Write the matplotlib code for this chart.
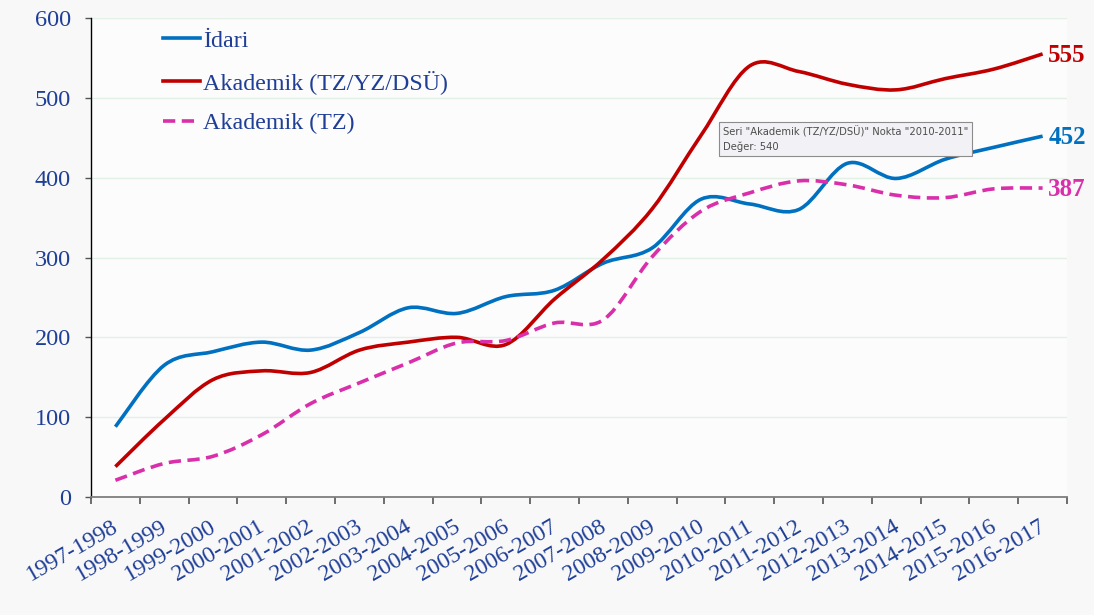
import numpy as np
import matplotlib
matplotlib.use("Agg")
import matplotlib.pyplot as plt
import matplotlib.transforms as mtransforms
from matplotlib.path import Path
from matplotlib.patches import PathPatch
from matplotlib.lines import Line2D

years = ["1997-1998", "1998-1999", "1999-2000", "2000-2001", "2001-2002", "2002-2003",
         "2003-2004", "2004-2005", "2005-2006", "2006-2007", "2007-2008", "2008-2009",
         "2009-2010", "2010-2011", "2011-2012", "2012-2013", "2013-2014", "2014-2015",
         "2015-2016", "2016-2017"]
idari = [88, 165, 182, 194, 184, 206, 237, 230, 251, 259, 293, 312, 373, 367, 360, 418, 399, 423, 438, 452]
akademik_all = [38, 97, 147, 158, 156, 184, 194, 200, 191, 248, 298, 361, 453, 540, 533, 517, 510, 524, 536, 555]
akademik_tz = [21, 42, 51, 78, 117, 143, 168, 193, 196, 218, 222, 301, 358, 381, 396, 391, 378, 375, 386, 387]

names = ["İdari", "Akademik (TZ/YZ/DSÜ)", "Akademik (TZ)"]
colors = ["#0070C0", "#C00000", "#D92FAA"]
label_blue = "#1F3E96"

W, H = 1094, 615
fig = plt.figure(figsize=(W / 100, H / 100), dpi=100, facecolor="#F8F8F8")
ax = fig.add_axes([91 / W, 1 - 497 / H, (1067 - 91) / W, (497 - 18) / H])
ax.set_facecolor("#FCFCFC")


def smooth_path(xs, ys):
    pts = np.column_stack([xs, ys]).astype(float)
    n = len(pts)
    verts = [pts[0]]
    codes = [Path.MOVETO]
    for i in range(n - 1):
        p0 = pts[i - 1] if i > 0 else pts[i]
        p1 = pts[i]
        p2 = pts[i + 1]
        p3 = pts[i + 2] if i + 2 < n else pts[i + 1]
        c1 = p1 + (p2 - p0) / 6.0
        c2 = p2 - (p3 - p1) / 6.0
        verts += [c1, c2, p2]
        codes += [Path.CURVE4] * 3
    return Path(verts, codes)


xs = np.arange(len(years))
series = [idari, akademik_all, akademik_tz]
styles = ["-", "-", (0, (3.4, 1.8))]
handles = []
for vals, c, ls, nm in zip(series, colors, styles, names):
    patch = PathPatch(smooth_path(xs, vals), fill=False, edgecolor=c, lw=2.6,
                      linestyle=ls, capstyle="butt", zorder=3)
    ax.add_patch(patch)
    handles.append(Line2D([], [], color=c, lw=2.6, linestyle=ls))
    ax.annotate(str(vals[-1]), xy=(xs[-1], vals[-1]), xytext=(4, -1),
                textcoords="offset points", ha="left", va="center",
                color=c, fontsize=18, fontweight="bold",
                family="Liberation Serif", annotation_clip=False)

ax.set_xlim(-0.5, len(years) - 0.5)
ax.set_ylim(0, 600)
ax.set_yticks(range(0, 601, 100))
ax.yaxis.grid(True, color="#E2F0E6", lw=1)
ax.set_axisbelow(True)

for s in ["top", "right"]:
    ax.spines[s].set_visible(False)
ax.spines["left"].set_color("#000000")
ax.spines["left"].set_linewidth(1.0)
ax.spines["bottom"].set_color("#7F7F7F")
ax.spines["bottom"].set_linewidth(1.3)

ax.tick_params(axis="y", length=4.5, width=1, color="#555555", pad=10,
               labelsize=17.5, labelcolor=label_blue)
for t in ax.get_yticklabels():
    t.set_family("Liberation Serif")

ax.set_xticks(xs)
ax.set_xticklabels(years, rotation=30, ha="right", va="top", rotation_mode="anchor",
                   family="Liberation Serif", fontsize=17, color=label_blue)
ax.tick_params(axis="x", which="major", length=0, pad=14)
ax.set_xticks(np.arange(-0.5, len(years), 1), minor=True)
ax.tick_params(axis="x", which="minor", length=5, width=1.2, color="#555555")
shift = mtransforms.ScaledTranslation(-4 / 100, 0, fig.dpi_scale_trans)
for t in ax.get_xticklabels():
    t.set_transform(t.get_transform() + shift)

leg = fig.legend(handles, names, loc="upper left", bbox_to_anchor=(163 / W, 1 - 30 / H),
                 frameon=False, borderpad=0, borderaxespad=0, handlelength=1.55,
                 handletextpad=0.12, labelspacing=0.76,
                 prop={"family": "Liberation Serif", "size": 17.3})
for t in leg.get_texts():
    t.set_color(label_blue)

fig.text(723 / W, 1 - 139 / H, 'Seri "Akademik (TZ/YZ/DSÜ)" Nokta "2010-2011"\nDeğer: 540',
         ha="left", va="center", fontsize=7.2, color="#4D4D4D", family="DejaVu Sans",
         linespacing=1.5,
         bbox=dict(boxstyle="square,pad=0.4", facecolor="#F2F2F6", edgecolor="#8C8C8C", lw=0.8),
         zorder=10)

fig.savefig("out.png", dpi=100, facecolor=fig.get_facecolor())
